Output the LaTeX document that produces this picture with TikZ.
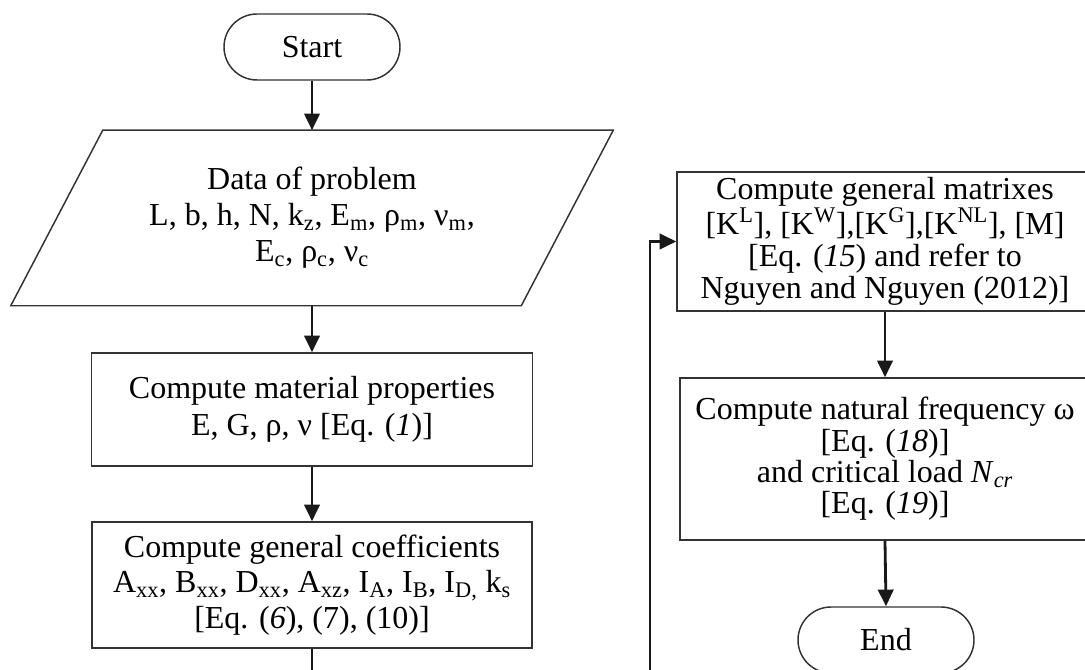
\documentclass[tikz,border=0pt]{standalone}
\usepackage{fontspec}
\setmainfont{Liberation Serif}
\usetikzlibrary{arrows.meta,shapes.misc,calc}
\begin{document}
\begin{tikzpicture}[x=0.75pt,y=-0.75pt,
  every node/.style={font=\fontsize{24}{25}\selectfont},
  term/.style={rounded rectangle, draw=black!80, line width=1.1pt, minimum width=132pt, minimum height=49.5pt, inner sep=0pt},
  procbox/.style={rectangle, draw=black!80, line width=1.1pt, align=center, inner sep=0pt},
  flow/.style={-{Triangle[length=12.5pt,width=11.5pt]}, line width=2.1pt, draw=black!90},
  plain/.style={line width=2.1pt, draw=black!90}]
\useasboundingbox (0,0) rectangle (1085,670);
\fill[white] (0,0) rectangle (1085,670);
\node[term] (start) at (312,47) {Start};
\node[align=center, minimum width=382.5pt, minimum height=131.25pt, inner sep=0pt,
  font=\fontsize{24}{27}\selectfont] (data) at (312,218)
  {Data of problem\\ L, b, h, N, k\textsubscript{z}, E\textsubscript{m}, ρ\textsubscript{m}, ν\textsubscript{m},\\ E\textsubscript{c}, ρ\textsubscript{c}, ν\textsubscript{c}};
\draw[draw=black!80,line width=1.1pt] ($(data.north west)+(46,0)$) -- ($(data.north east)+(46,0)$) -- ($(data.south east)+(-46,0)$) -- ($(data.south west)+(-46,0)$) -- cycle;
\node[procbox, minimum width=330.75pt, minimum height=84.75pt, font=\fontsize{24}{27.5}\selectfont] (mat) at (312,409.5)
  {Compute material properties\\ E, G, ρ, ν {[}Eq. (\textit{1})]};
\node[procbox, minimum width=330pt, minimum height=94.5pt, font=\fontsize{24}{26.5}\selectfont] (coef) at (312,585)
  {Compute general coefficients\\ A\textsubscript{xx}, B\textsubscript{xx}, D\textsubscript{xx}, A\textsubscript{xz}, I\textsubscript{A}, I\textsubscript{B}, I\textsubscript{D,} k\textsubscript{s}\\ {[}Eq. (\textit{6}), (7), (10)]};
\node[procbox, minimum width=312pt, minimum height=104.25pt, font=\fontsize{24}{24}\selectfont] (mtx) at (885,241.5)
  {Compute general matrixes\\ {[}K\textsuperscript{L}], [K\textsuperscript{W}],[K\textsuperscript{G}],[K\textsuperscript{NL}], [M]\\ {[}Eq. (\textit{15}) and refer to\\ Nguyen and Nguyen (2012)]};
\node[procbox, minimum width=307.5pt, minimum height=121.5pt, font=\fontsize{24}{23.5}\selectfont] (freq) at (885,459)
  {Compute natural frequency ω\\ {[}Eq. (\textit{18})]\\ and critical load \textit{N}\textsubscript{\textit{cr}}\\ {[}Eq. (\textit{19})]};
\node[term] (end) at (886,640) {End};
\coordinate (cb) at (312,680);
\coordinate (lb) at (650,680);
\draw[flow] (start.south) -- (data.north);
\draw[flow] (data.south) -- (mat.north);
\draw[flow] (mat.south) -- (coef.north);
\draw[plain] (coef.south) -- (cb);
\draw[flow] (lb) |- (mtx.west);
\draw[flow] (mtx.south) -- (freq.north);
\draw[flow] (freq.south) -- (end.north);
\end{tikzpicture}
\end{document}
